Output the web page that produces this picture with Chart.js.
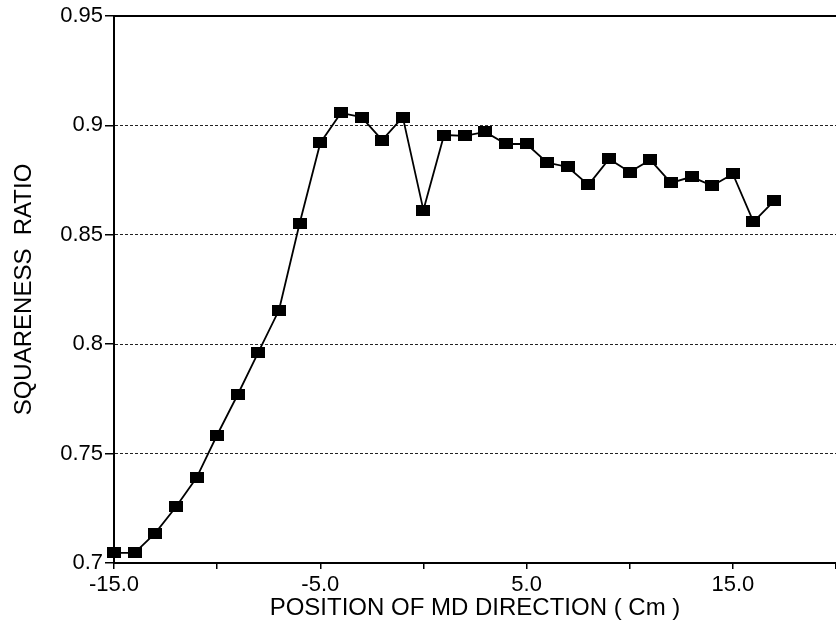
<!DOCTYPE html>
<html>
<head>
<meta charset="utf-8">
<script src="https://cdn.jsdelivr.net/npm/chart.js@4.4.1/dist/chart.umd.min.js"></script>
<style>
  html, body { margin: 0; padding: 0; background: #fff; }
  canvas { display: block; }
</style>
</head>
<body>
<canvas id="chart" width="836" height="633"></canvas>
<script>
  // position along MD direction (cm) and measured squareness ratio
  const positions = [-15, -14, -13, -12, -11, -10, -9, -8, -7, -6, -5, -4, -3, -2, -1, 0,
                     1, 2, 3, 4, 5, 6, 7, 8, 9, 10, 11, 12, 13, 14, 15, 16, 17];
  const ratio = [0.7046, 0.7046, 0.7137, 0.7256, 0.7389, 0.7585, 0.7770, 0.7964, 0.8156, 0.8553,
                 0.8920, 0.9057, 0.9038, 0.8933, 0.9038, 0.8613, 0.8956, 0.8952, 0.8970, 0.8915,
                 0.8915, 0.8830, 0.8810, 0.8728, 0.8847, 0.8787, 0.8842, 0.8737, 0.8765, 0.8724,
                 0.8778, 0.8559, 0.8655];
  const labeledXTicks = [-15, -5, 5, 15];

  const font = '"Liberation Sans", Arial, Helvetica, sans-serif';

  // filled black box used as the marker
  const marker = document.createElement('canvas');
  marker.width = 14;
  marker.height = 11;
  const mctx = marker.getContext('2d');
  mctx.fillStyle = '#000';
  mctx.fillRect(0, 0, 14, 11);

  const noPad = s => { s.paddingTop = 0; s.paddingBottom = 0; s.paddingLeft = 0; s.paddingRight = 0; };

  const ctx = document.getElementById('chart').getContext('2d');
  const chart = new Chart(ctx, {
    type: 'line',
    data: {
      datasets: [{
        data: positions.map((x, i) => ({ x: x, y: ratio[i] })),
        borderColor: '#000',
        borderWidth: 1.8,
        pointStyle: marker,
        pointRadius: 7,
        tension: 0,
        clip: false,
        fill: false
      }]
    },
    options: {
      responsive: false,
      animation: false,
      layout: { autoPadding: false, padding: { top: 16, right: 0, left: 0, bottom: 0 } },
      plugins: { legend: { display: false }, tooltip: { enabled: false } },
      scales: {
        x: {
          type: 'linear',
          min: -15,
          max: 20,
          afterFit: s => { s.height = 70; noPad(s); },
          ticks: {
            stepSize: 5,
            autoSkip: false,
            maxRotation: 0,
            padding: 3,
            color: '#000',
            font: { family: font, size: 22 },
            callback: v => labeledXTicks.includes(v) ? v.toFixed(1) : ''
          },
          grid: { drawOnChartArea: false, tickLength: 6, color: '#000', lineWidth: 1.5 },
          border: { display: true, color: '#000', width: 2 },
          title: {
            display: true,
            text: 'POSITION OF MD DIRECTION ( Cm )',
            color: '#000',
            font: { family: font, size: 24 },
            padding: { top: 0, bottom: 10 }
          }
        },
        xTop: {
          type: 'linear',
          position: 'top',
          min: -15,
          max: 20,
          afterFit: s => { s.height = 0; noPad(s); },
          ticks: { display: false },
          grid: { display: false },
          border: { display: true, color: '#000', width: 2 }
        },
        y: {
          min: 0.7,
          max: 0.95,
          weight: 1,
          afterFit: s => { s.width = 114; noPad(s); },
          ticks: {
            stepSize: 0.05,
            padding: 11,
            color: '#000',
            font: { family: font, size: 22 },
            callback: v => String(Number(v.toFixed(2)))
          },
          grid: { drawTicks: false, color: '#222', lineWidth: 1 },
          border: { display: true, color: '#000', width: 2, dash: [3, 2] },
          title: {
            display: true,
            text: 'SQUARENESS  RATIO',
            color: '#000',
            font: { family: font, size: 24 },
            padding: { top: 10, bottom: 0 }
          }
        },
        yTicks: {
          min: 0.7,
          max: 0.95,
          position: 'left',
          weight: 0,
          afterFit: s => { s.width = 0; noPad(s); },
          ticks: { stepSize: 0.05, display: false },
          grid: { drawOnChartArea: false, tickLength: 9, color: '#000', lineWidth: 1.5 },
          border: { display: false }
        }
      }
    }
  });
</script>
</body>
</html>
